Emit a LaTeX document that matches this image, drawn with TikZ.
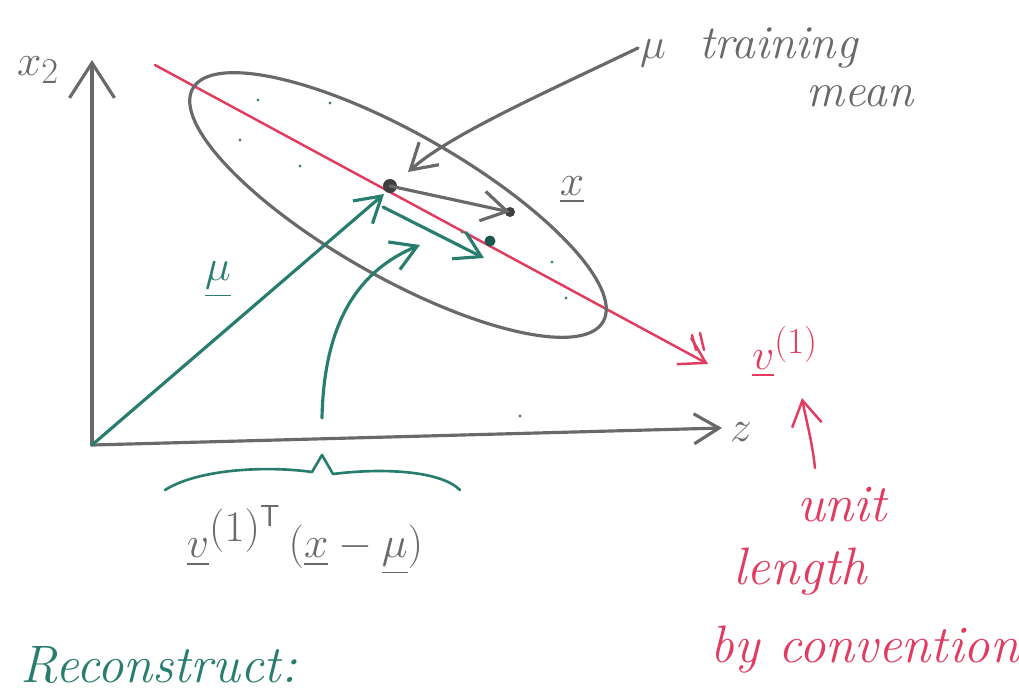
\documentclass[tikz,border=0pt]{standalone}
\usepackage{amsmath}
\usetikzlibrary{arrows.meta}

\definecolor{pengray}{RGB}{105,105,105}
\definecolor{penred}{RGB}{225,60,95}
\definecolor{pengreen}{RGB}{40,125,110}

\begin{document}
\begin{tikzpicture}[x=0.02cm, y=-0.02cm, line cap=round, line join=round,
  graypen/.style={draw=pengray, line width=1.8pt},
  redpen/.style={draw=penred, line width=1.4pt},
  greenpen/.style={draw=pengreen, line width=1.8pt},
  tip/.style={-{Straight Barb[length=5mm, width=6mm]}},
  every node/.style={font=\fontsize{30}{34}\selectfont\itshape}]
  \useasboundingbox (0,0) rectangle (1019,694);

  % Axes
  \coordinate (O) at (92,445);
  \coordinate (x2end) at (92,60);
  \coordinate (x1end) at (722,428);
  \draw[graypen, -{Straight Barb[length=7mm, width=9mm]}] (O) -- (x2end);
  \draw[graypen, tip] (O) -- (x1end);
  \node[text=pengray] (x2lab) at (38,70) {$x_2$};
  \node[text=pengray, anchor=west] (x1lab) at (724,432) {$z$};

  % Principal direction
  \coordinate (vstart) at (155,65);
  \coordinate (vend) at (708,364);
  \draw[redpen, tip] (vstart) -- (vend);
  \draw[redpen] (692,335) -- (696,350);
  \draw[redpen] (700,333) -- (704,350);
  \node[text=penred] (vlab) at (785,352) {$\underline{v}^{(1)}$};

  % Data cloud
  \draw[graypen, rotate around={-29.6:(398,205)}] (398,205) ellipse (236 and 72);
  \foreach \px/\py in {258/100, 330/103, 240/140, 300/166, 462/232, 552/262, 566/298, 520/416}
    \fill[pengreen!60!gray] (\px,\py) circle (1.6);

  % Mean, sample and projection
  \coordinate (mu) at (390,186);
  \coordinate (xpt) at (510,212);
  \coordinate (proj) at (490,241);
  \fill[pengray!60!black] (mu) circle (7);
  \fill[pengray!60!black] (xpt) circle (5);
  \draw[graypen, tip] (mu) -- (xpt);
  \node[text=pengray] (xlab) at (572,190) {$\underline{x}$};

  % Training mean pointer
  \node[text=pengray, anchor=west, inner sep=1pt, font=\fontsize{27}{30}\selectfont\itshape] (mulab) at (638,48) {$\mu$\ \ training};
  \node[text=pengray, inner sep=1pt, font=\fontsize{27}{30}\selectfont\itshape] (meanlab) at (860,96) {mean};
  \draw[graypen, tip] (mulab.west) .. controls (540,95) and (450,135) .. (408,172);

  % Mean vector
  \draw[greenpen, tip] (O) -- (384,194);
  \node[text=pengreen] (muvec) at (218,280) {$\underline{\mu}$};

  % Projection vector
  \coordinate (pstart) at (383,207);
  \coordinate (pend) at (484,258);
  \draw[greenpen, tip] (pstart) -- (pend);
  \fill[pengreen!70!black] (proj) circle (5.5);
  \draw[greenpen, tip] (322,418) .. controls (324,320) and (360,270) .. (420,245);

  % Brace and formula
  \draw[greenpen, line width=1.5pt] (165,490) .. controls (200,468) and (270,466) .. (312,472)
    -- (322,455) -- (333,474) .. controls (380,468) and (440,470) .. (460,490);
  \node[text=pengray, font=\fontsize{36}{40}\selectfont] (formula) at (305,540)
    {$\underline{v}^{(1)^{\mathsf{T}}}\,(\underline{x}-\underline{\mu})$};

  % Unit length note
  \draw[redpen, tip] (815,468) .. controls (812,440) and (806,420) .. (802,398);
  \node[text=penred] (unitlab) at (842,505) {unit};
  \node[text=penred] (lengthlab) at (800,572) {length};
  \node[text=penred] (convlab) at (865,650) {by convention};

  % Reconstruct
  \node[text=pengreen, anchor=base west, inner sep=1pt] (recon) at (18,682) {Reconstruct:};
\end{tikzpicture}
\end{document}
